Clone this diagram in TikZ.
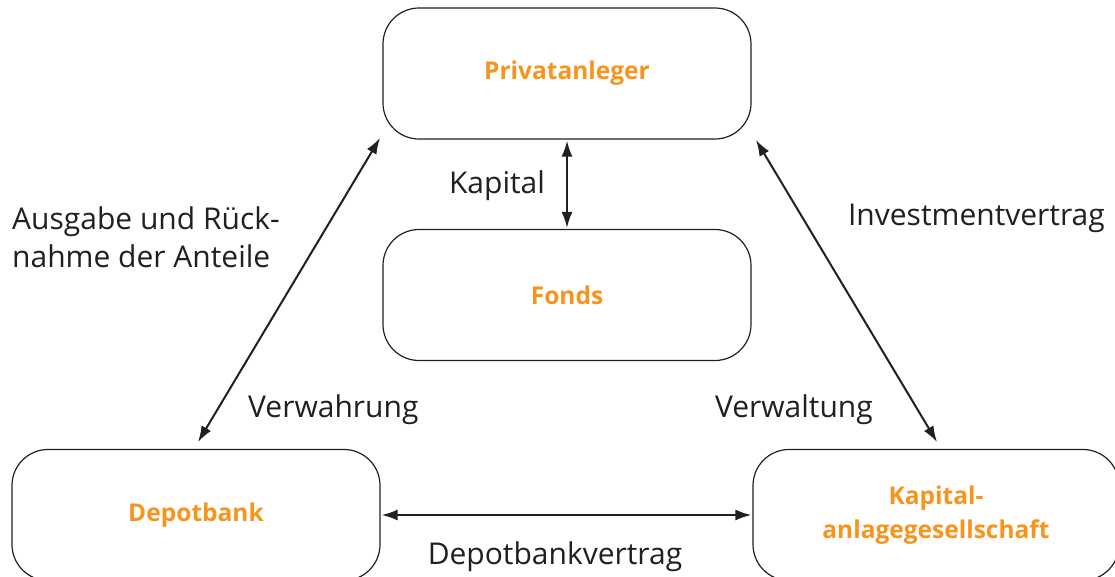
\documentclass[tikz,border=0pt]{standalone}
\usepackage{fontspec}
\setmainfont{Open Sans}
\usetikzlibrary{arrows.meta}
\definecolor{ink}{HTML}{231F20}
\definecolor{boxorange}{HTML}{F7941D}
\tikzset{
  unit/.style={x=1pt,y=-1pt},
  entity/.style={draw=ink,line width=1.2pt,rounded corners=36pt,minimum width=368pt,minimum height=131pt,
     font=\fontsize{24.5}{34}\selectfont\bfseries,text=boxorange,align=center,inner sep=0pt},
  lbl/.style={font=\fontsize{30}{38}\selectfont,text=ink,inner sep=0pt,align=left},
  link/.style={draw=ink,line width=2pt,{Latex[length=16pt,width=11pt]}-{Latex[length=16pt,width=11pt]}}
}
\begin{document}
\begin{tikzpicture}[unit]
\useasboundingbox (0,0) rectangle (1115,576);
\node[entity] (p) at (567,73.5) {Privatanleger};
\node[entity] (f) at (567,295) {Fonds};
\node[entity] (d) at (196,515) {Depotbank};
\node[entity,minimum width=366pt] (k) at (936,515) {Kapital-\\anlagegesellschaft};
\coordinate (pl) at (380,138);
\coordinate (dl) at (198,442);
\coordinate (pr) at (756,140);
\coordinate (kr) at (937,442);
\draw[link] (pl) -- (dl);
\draw[link] (pr) -- (kr);
\draw[link,shorten <=1pt,shorten >=1pt] (p.south) -- (f.north);
\draw[link,shorten <=1pt,shorten >=1pt] (d.east) -- (k.west);
\node[lbl,anchor=center] (lk) at (497,186) {Kapital};
\node[lbl,anchor=west] (la) at (12,237) {Ausgabe und Rück-\\nahme der Anteile};
\node[lbl,anchor=east] (li) at (1105,218) {Investmentvertrag};
\node[lbl,anchor=west] (lv) at (248,410) {Verwahrung};
\node[lbl,anchor=east] (lw) at (873,410) {Verwaltung};
\node[lbl,anchor=center] (ld) at (555,557) {Depotbankvertrag};
\end{tikzpicture}
\end{document}
